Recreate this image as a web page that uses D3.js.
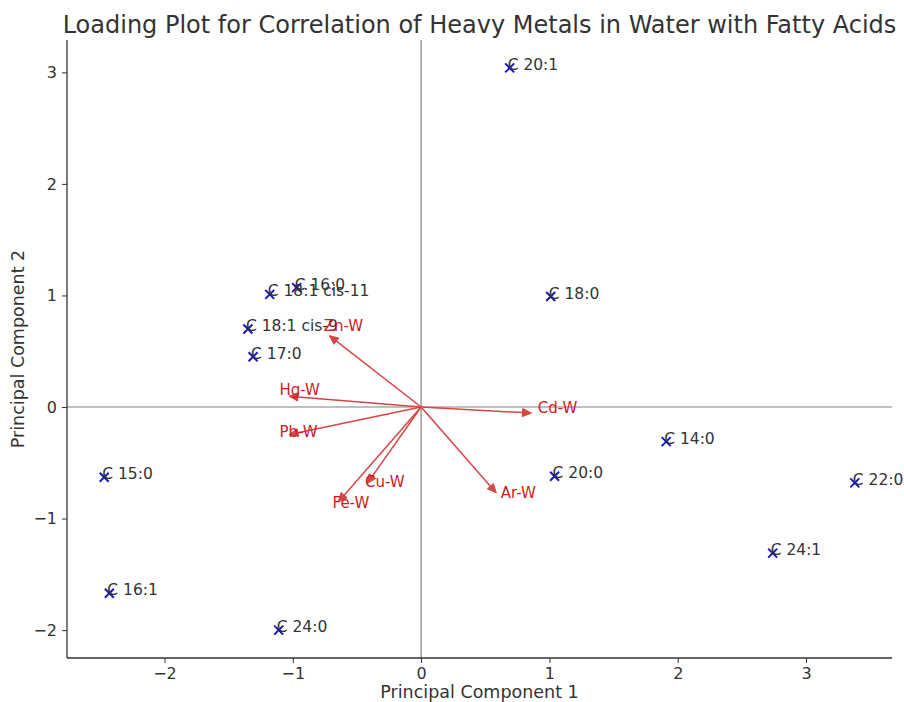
<!DOCTYPE html>
<html>
<head>
<meta charset="utf-8">
<script src="https://cdn.jsdelivr.net/npm/d3@7"></script>
<style>
  body { margin: 0; background: #fff; }
  svg { display: block; font-family: "DejaVu Sans", sans-serif; }
</style>
</head>
<body>
<svg id="chart" width="904" height="702"></svg>
<script>
// Fatty acid scores (PC1, PC2)
const acidNames = ["C 20:1", "C 16:0", "C 18:1 cis-11", "C 18:1 cis-9", "C 17:0", "C 18:0",
                   "C 14:0", "C 20:0", "C 22:0", "C 24:1", "C 15:0", "C 16:1", "C 24:0"];
const acidPC1 = [0.69, -0.97, -1.18, -1.35, -1.31, 1.01, 1.91, 1.04, 3.38, 2.74, -2.47, -2.43, -1.11];
const acidPC2 = [3.04, 1.07, 1.01, 0.70, 0.45, 0.99, -0.31, -0.62, -0.68, -1.31, -0.63, -1.67, -2.00];

// Heavy metal loadings (PC1, PC2)
const metalNames = ["Zn-W", "Hg-W", "Pb-W", "Cd-W", "Cu-W", "Fe-W", "Ar-W"];
const metalPC1 = [-0.66, -0.96, -0.96, 0.79, -0.38, -0.60, 0.54];
const metalPC2 = [0.59, 0.09, -0.23, -0.05, -0.62, -0.79, -0.71];

const xTicks = [-2, -1, 0, 1, 2, 3];
const yTicks = [-2, -1, 0, 1, 2, 3];
const labelScale = 1.15;

const svg = d3.select("#chart");
const m = { left: 67, right: 12, top: 40, bottom: 44 };
const W = 904, H = 702;

const x = d3.scaleLinear().domain([-2.76, 3.67]).range([m.left, W - m.right]);
const y = d3.scaleLinear().domain([-2.25, 3.29]).range([H - m.bottom, m.top]);

// zero lines
svg.append("line").attr("x1", x.range()[0]).attr("x2", x.range()[1])
  .attr("y1", y(0)).attr("y2", y(0)).attr("stroke", "#808080").attr("stroke-width", 1.2);
svg.append("line").attr("y1", y.range()[0]).attr("y2", y.range()[1])
  .attr("x1", x(0)).attr("x2", x(0)).attr("stroke", "#808080").attr("stroke-width", 1.2);

// axes
const fmt = d3.format("d");
const xAxis = svg.append("g").attr("transform", `translate(0,${H - m.bottom})`)
  .call(d3.axisBottom(x).tickValues(xTicks).tickFormat(d => fmt(d)).tickSize(5).tickPadding(5));
const yAxis = svg.append("g").attr("transform", `translate(${m.left},0)`)
  .call(d3.axisLeft(y).tickValues(yTicks).tickFormat(d => fmt(d)).tickSize(5).tickPadding(5));
[xAxis, yAxis].forEach(a => {
  a.select(".domain").attr("stroke", "#333").attr("stroke-width", 1.3);
  a.selectAll(".tick line").attr("stroke", "#333").attr("stroke-width", 1);
  a.selectAll(".tick text").attr("fill", "#333").style("font-size", "16px")
    .style("font-family", "DejaVu Sans");
});
xAxis.select(".domain").attr("d", `M${x.range()[0]},0H${x.range()[1]}`);
yAxis.select(".domain").attr("d", `M0,${y.range()[0]}V${y.range()[1]}`);

// arrows
const red = "#d84545";
const g = svg.append("g");
metalNames.forEach((name, i) => {
  const x0 = x(0), y0 = y(0);
  const x1 = x(metalPC1[i]), y1 = y(metalPC2[i]);
  const dx = x1 - x0, dy = y1 - y0;
  const len = Math.hypot(dx, dy);
  const ux = dx / len, uy = dy / len;
  const hl = 9, hw = 4;
  g.append("line").attr("x1", x0).attr("y1", y0).attr("x2", x1).attr("y2", y1)
    .attr("stroke", red).attr("stroke-width", 1.5);
  const tip = [x1 + ux * hl, y1 + uy * hl];
  const p1 = [x1 - uy * hw, y1 + ux * hw];
  const p2 = [x1 + uy * hw, y1 - ux * hw];
  g.append("path").attr("d", `M${tip}L${p1}L${p2}Z`).attr("fill", red).attr("stroke", red)
    .attr("stroke-width", 1);
});

// points
const pts = svg.append("g");
acidNames.forEach((name, i) => {
  const px = x(acidPC1[i]), py = y(acidPC2[i]);
  const s = 4.5;
  pts.append("path").attr("d", `M${px - s},${py - s}L${px + s},${py + s}M${px - s},${py + s}L${px + s},${py - s}`)
    .attr("stroke", "#1818c0").attr("stroke-width", 2);
  pts.append("text").attr("x", px - 2).attr("y", py + 2).text(name)
    .attr("fill", "#333").style("font-size", "15.5px");
});

// metal labels
metalNames.forEach((name, i) => {
  svg.append("text").attr("x", x(metalPC1[i] * labelScale)).attr("y", y(metalPC2[i] * labelScale))
    .text(name).attr("fill", "#cc2020").style("font-size", "15px");
});

// titles
svg.append("text").attr("x", (m.left + W - m.right) / 2).attr("y", 33)
  .attr("text-anchor", "middle").attr("fill", "#333").style("font-size", "24px")
  .text("Loading Plot for Correlation of Heavy Metals in Water with Fatty Acids");
svg.append("text").attr("x", (m.left + W - m.right) / 2).attr("y", 698)
  .attr("text-anchor", "middle").attr("fill", "#333").style("font-size", "17.5px")
  .text("Principal Component 1");
svg.append("text").attr("transform", `translate(24,${(m.top + H - m.bottom) / 2}) rotate(-90)`)
  .attr("text-anchor", "middle").attr("fill", "#333").style("font-size", "17.5px")
  .text("Principal Component 2");
</script>
</body>
</html>
